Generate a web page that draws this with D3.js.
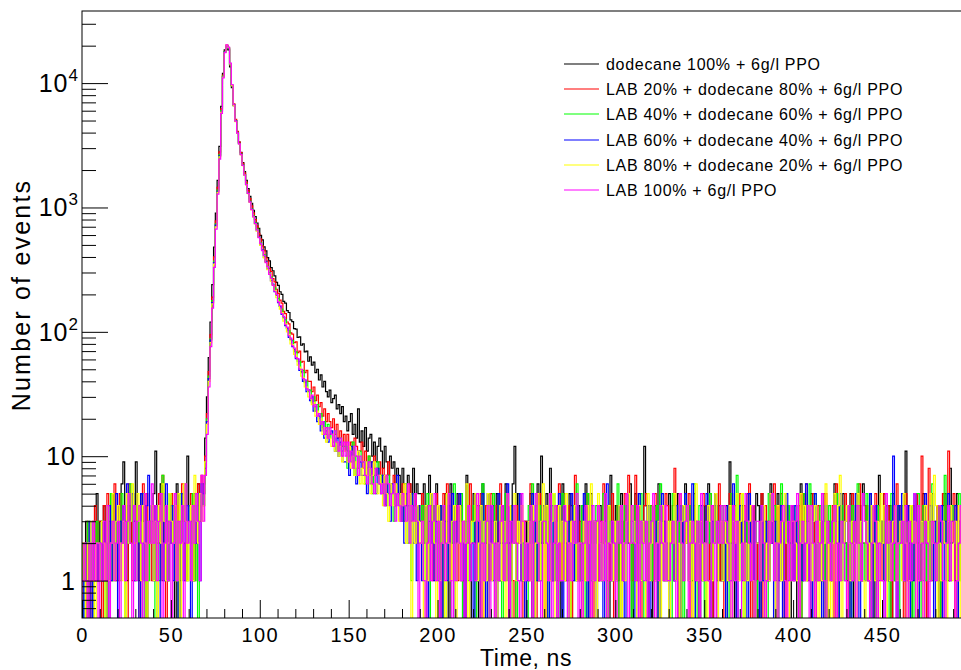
<!DOCTYPE html>
<html>
<head>
<meta charset="utf-8">
<script src="https://cdn.jsdelivr.net/npm/d3@7"></script>
<style>
  html, body { margin: 0; padding: 0; background: #fff; overflow: hidden; }
  text { font-family: "Liberation Sans", Arial, Helvetica, sans-serif; fill: #000; }
</style>
</head>
<body>
<svg id="chart" width="961" height="670"></svg>
<script>
// Time spectra, 1 ns bins starting at t = 0 ns (counts per bin)
const dodecane100 = [
  2,1,3,0,2,1,3,2,5,1, 3,1,4,2,0,3,2,5,3,1, 4,2,6,9,3,1,4,2,5,3, 9,2,1,5,3,4,0,3,2,4,
  5,11,4,2,6,1,3,4,1,3, 3,2,0,6,3,1,5,3,4,10, 4,3,1,5,2,6,3,4,6,14,
  30,62,120,240,480,900,1650,3100,6500,12000,
  18500,20000,18500,13500,9200,6600,5000,4050,3350,2780,
  2300,1940,1650,1420,1230,1080,950,845,750,680,
  596,548,482,447,395,372,328,310,282,250,
  236,210,200,176,170,148,143,125,121,106,
  105,90,91,78,80,69,70,58,63,54,
  57,47,50,41,45,36,40,33,30,34,
  27,29,31,24,26,22,25,19,21,16,
  19,22,15,18,14,24,13,16,12,17,
  11,14,15,10,13,9,12,14,11,8,
  12,9,7,10,8,9,6,8,7,5,
  8,6,4,7,6,5,8,4,6,5,
  5,3,6,2,4,7,5,3,4,6, 3,1,4,2,5,3,0,6,2,4, 2,5,3,4,1,3,7,2,0,3, 5,2,1,0,4,6,3,2,5,1,
  3,4,2,5,1,1,4,3,6,2, 0,2,6,12,2,5,3,1,1,3, 2,3,5,0,3,2,6,1,10,2, 3,5,2,8,1,1,3,4,2,0,
  6,3,2,1,5,4,2,3,1,4, 1,2,4,6,2,0,5,2,3,3, 1,4,3,2,5,1,0,7,2,3, 4,1,2,5,1,3,4,2,6,0,
  2,5,1,4,3,2,12,4,0,3, 3,0,4,1,6,2,4,3,2,1, 5,3,2,1,3,5,0,2,4,6, 2,4,1,1,5,3,2,0,3,2,
  4,3,6,2,0,2,5,1,4,1, 3,2,4,1,9,2,3,0,2,3, 2,4,1,2,5,3,1,4,0,5, 4,0,5,3,2,1,3,6,2,3,
  1,5,2,4,3,1,4,2,0,3, 2,3,0,2,6,1,5,2,3,4, 5,2,3,1,2,3,1,5,0,2, 3,1,2,6,3,0,4,3,5,2,
  1,3,5,2,0,3,2,4,1,6, 4,2,1,5,2,4,0,2,7,3, 2,5,3,1,4,0,5,2,1,4, 3,2,4,11,1,2,0,4,2,5,
  4,1,2,5,3,0,1,3,5,2, 2,4,0,2,4,5,3,1,8,3, 3,1,5,3,2,0,3,5,2,4
];
const lab20 = [
  1,2,0,3,1,0,2,4,1,3, 3,0,4,1,5,2,1,3,6,2, 1,5,2,4,3,0,6,3,1,2, 2,4,0,1,6,3,5,2,3,1,
  4,1,2,5,3,7,2,0,3,2, 5,2,1,4,0,3,6,2,1,3, 3,5,2,1,3,6,4,7,5,10,
  22,48,95,190,400,780,1450,2800,6200,11600,
  18000,20200,19000,14000,9600,6800,5100,4100,3350,2760,
  2260,1900,1600,1370,1180,1030,905,800,712,618,
  560,492,455,398,370,324,306,268,252,220,
  204,180,170,146,140,120,116,98,96,82,
  83,68,70,57,58,47,49,40,40,33,
  36,28,31,25,27,21,24,19,22,19,
  17,20,15,18,14,16,12,15,11,15,
  10,13,9,14,12,8,11,13,8,11,
  7,10,9,6,10,8,7,9,6,8,
  5,7,9,5,6,7,4,6,5,4,
  6,3,5,4,6,3,4,5,2,4,
  3,5,2,4,1,2,4,1,3,5, 2,4,0,5,2,6,3,1,2,3, 4,1,5,3,1,0,4,2,6,3, 3,1,4,2,5,0,2,4,1,2,
  5,3,0,4,2,6,1,3,1,4, 2,4,1,0,4,2,5,3,0,3, 3,1,6,3,2,0,3,5,2,4, 0,3,2,5,1,2,4,1,6,1,
  2,5,1,2,4,0,2,7,3,1, 3,0,4,1,5,2,3,0,2,3, 1,3,2,6,3,4,1,2,5,0, 3,4,0,2,1,5,3,7,2,1,
  2,7,1,4,0,2,4,5,1,2, 4,1,5,2,0,3,2,1,5,4, 1,2,4,8,2,0,5,2,1,3, 2,5,0,2,4,1,3,1,3,5,
  4,2,1,5,0,4,3,2,6,1, 3,0,2,3,5,1,2,4,1,2, 5,2,4,1,2,6,0,4,2,1, 2,1,5,0,4,3,1,3,2,6,
  3,4,1,5,2,0,4,1,2,4, 1,2,3,4,0,5,3,6,1,2, 2,5,0,2,4,1,2,3,5,1, 3,1,4,0,6,2,1,3,2,5,
  4,0,2,5,1,4,2,6,1,2, 2,4,1,2,0,3,5,1,4,3, 1,5,2,4,3,0,4,1,6,2, 4,2,0,5,1,4,3,2,1,5,
  2,1,10,2,4,0,8,4,1,3, 3,4,1,0,5,2,4,11,2,2, 5,0,4,3,1,4,2,1,5,3
];
const lab40 = [
  0,2,1,3,2,1,0,2,3,1, 2,3,1,0,4,2,5,1,3,2, 3,1,5,2,0,4,2,6,3,1, 1,4,2,3,5,0,3,1,2,4,
  3,0,4,1,2,7,4,2,1,5, 2,4,1,3,0,5,2,3,6,1, 4,2,5,1,3,0,4,6,4,9,
  20,44,88,178,370,740,1380,2650,6000,11400,
  17900,20000,19100,14100,9500,6700,5000,4000,3280,2690,
  2200,1840,1540,1310,1120,975,855,755,672,580,
  522,455,418,366,338,296,276,240,226,196,
  186,160,152,130,125,106,102,86,85,70,
  69,58,58,47,49,39,40,33,34,27,
  30,23,26,20,22,17,19,15,18,14,
  15,13,16,11,12,14,10,12,12,8,
  11,9,13,7,10,8,11,9,9,6,
  8,10,7,5,8,7,9,6,7,5,
  6,4,7,5,6,3,5,6,4,5,
  3,4,6,2,4,1,5,3,4,2,
  2,4,1,3,5,0,3,2,4,1, 3,1,4,0,2,5,1,3,2,6, 1,3,2,5,0,2,4,1,3,2, 4,0,3,1,2,6,2,3,0,4,
  2,5,1,3,4,1,0,2,5,3, 3,1,4,2,0,3,5,1,2,1, 0,4,2,6,3,1,2,4,1,3, 2,3,0,4,1,5,3,0,2,4,
  5,1,2,3,0,2,4,1,6,2, 1,4,3,0,5,2,1,3,2,4, 3,2,1,5,2,0,4,2,1,3, 2,6,0,3,1,4,2,5,3,0,
  4,1,3,2,5,1,0,3,2,4, 1,3,2,4,0,6,3,1,2,3, 3,0,5,1,3,2,4,2,0,5, 2,4,1,3,6,0,2,4,1,2,
  0,3,2,5,1,3,4,0,3,2, 4,1,3,0,2,5,1,3,7,1, 2,5,0,3,1,2,4,2,3,0, 1,2,4,1,3,0,5,3,2,4,
  3,0,2,6,1,3,2,4,1,2, 2,4,1,3,0,2,5,1,3,6, 0,3,5,1,2,4,1,3,0,2, 4,1,2,3,5,0,2,4,2,1,
  2,3,0,4,1,3,6,1,3,2, 1,5,2,0,3,2,1,4,2,3, 3,1,4,2,0,5,3,1,4,0, 2,4,1,3,2,1,4,0,3,5,
  5,0,2,4,1,3,2,1,6,2, 1,3,4,0,2,7,1,3,2,4, 3,2,0,5,1,3,4,2,0,3
];
const lab60 = [
  1,0,2,1,3,0,2,1,1,2, 2,1,3,2,0,4,1,3,2,5, 0,3,2,4,1,6,2,3,5,1, 3,2,0,5,2,1,4,7,2,3,
  1,4,3,0,2,5,1,6,3,2, 4,1,2,3,0,2,5,1,3,4, 2,0,3,4,2,5,1,6,5,8,
  19,42,86,172,360,720,1350,2600,5900,11300,
  17800,19900,19200,14200,9600,6650,4950,3980,3260,2670,
  2180,1830,1530,1300,1110,965,845,745,650,582,
  500,458,398,368,320,297,258,242,210,198,
  172,160,138,130,112,107,90,87,76,72,
  61,60,49,48,40,41,33,34,28,30,
  23,25,19,21,16,19,14,16,13,15,
  16,12,11,14,10,13,11,9,9,11,
  7,12,10,8,6,11,9,7,7,9,
  5,8,6,9,7,5,8,6,5,7,
  4,6,5,3,6,5,4,7,5,3,
  4,2,5,4,3,5,2,4,1,4,
  3,1,2,4,0,3,5,2,1,3, 1,4,0,2,3,1,4,2,5,0, 3,2,5,1,2,0,3,4,1,2, 0,3,1,4,2,5,1,0,3,2,
  4,1,3,0,5,2,2,3,1,6, 2,0,4,2,1,3,5,1,2,0, 1,3,2,5,0,4,1,3,2,4, 3,2,0,3,4,1,2,0,5,1,
  0,4,2,1,3,5,1,2,4,2, 2,1,5,3,0,2,4,1,3,0, 4,2,1,0,3,6,2,3,1,2, 1,3,4,2,1,0,3,5,2,3,
  3,0,2,5,1,3,2,1,4,0, 2,4,1,3,0,2,5,3,1,2, 0,2,3,1,4,2,0,4,2,5, 3,1,2,6,0,3,1,2,4,1,
  2,5,1,0,3,2,4,1,3,2, 1,3,0,4,2,1,6,2,0,3, 4,1,3,2,0,5,2,3,1,2, 2,0,4,1,3,2,1,5,2,0,
  3,2,1,4,0,3,5,1,2,4, 1,4,2,0,3,1,2,6,3,1, 0,3,5,2,1,2,0,3,4,2, 2,1,3,4,2,0,5,1,2,3,
  4,2,0,1,3,5,2,0,3,1, 1,3,2,5,0,2,4,3,1,2, 3,0,4,1,2,3,10,2,0,4, 2,5,1,3,4,0,2,1,5,3,
  0,2,3,1,5,2,1,4,2,0, 3,1,2,4,0,3,2,5,1,2, 2,4,0,2,3,1,4,2,3,1
];
const lab80 = [
  2,1,0,2,1,3,1,0,2,2, 1,3,2,0,4,1,2,5,1,3, 4,2,1,3,0,5,2,3,6,2, 2,5,3,1,4,2,0,3,2,4,
  1,3,0,4,2,6,3,1,2,5, 3,2,4,1,5,0,2,6,3,1, 2,4,1,7,3,2,5,3,4,9,
  18,40,82,168,350,700,1320,2550,5850,11200,
  17700,20100,19300,14300,9550,6600,4900,3950,3240,2650,
  2170,1820,1520,1290,1100,955,840,738,645,575,
  496,452,394,362,316,292,255,238,215,188,
  176,152,143,122,116,100,95,80,79,66,
  65,54,52,44,43,36,36,30,31,26,
  27,21,23,18,20,15,17,13,16,14,
  12,15,11,13,10,12,9,11,11,9,
  12,8,10,7,9,11,6,8,6,9,
  7,8,5,7,9,6,5,7,6,4,
  7,5,3,6,5,4,6,5,3,5,
  4,6,2,3,5,0,3,2,4,3,
  2,3,0,4,1,2,5,3,2,0, 4,1,3,2,0,5,2,1,3,4, 0,2,4,1,3,2,6,0,2,3, 3,5,1,2,4,0,3,1,5,2,
  1,2,3,0,2,4,1,3,0,5, 4,0,2,5,1,3,2,4,1,2, 2,3,1,4,0,2,5,1,3,6, 0,4,2,1,3,5,0,2,4,1,
  3,1,5,2,0,3,2,4,1,2, 2,0,3,1,4,2,6,1,3,0, 5,2,1,3,2,0,4,2,1,3, 1,3,4,0,2,1,3,5,2,4,
  3,2,0,4,1,3,2,0,5,1, 2,4,1,2,3,0,4,2,1,3, 0,3,2,5,1,2,0,3,4,2, 4,1,3,0,2,6,1,2,3,1,
  2,0,4,3,1,2,5,0,2,3, 1,3,2,1,4,0,3,2,5,1, 3,5,0,2,1,3,4,1,0,2, 2,1,3,4,0,2,1,5,3,2,
  0,4,2,1,3,5,2,0,1,3, 3,2,1,0,5,2,4,1,2,4, 1,3,4,2,0,3,1,2,6,0, 2,0,2,5,1,4,7,0,2,3,
  4,2,1,3,2,0,5,1,3,1, 0,3,2,1,4,2,1,3,0,5, 2,4,0,3,1,2,3,4,1,2, 3,1,5,2,0,1,4,2,3,0,
  1,2,3,0,4,3,1,5,2,7, 4,0,2,1,3,2,0,3,4,1, 2,3,1,4,0,2,5,1,2,3
];
const lab100 = [
  1,2,1,0,2,1,3,1,2,0, 2,1,3,1,4,0,2,3,1,2, 3,0,2,4,1,3,5,2,0,4, 1,3,4,2,0,5,1,3,2,6,
  2,4,1,3,5,0,2,4,1,3, 0,2,5,1,3,2,4,0,6,2, 3,1,4,2,5,3,1,7,3,7,
  15,36,76,155,330,670,1280,2450,5700,11000,
  17600,20300,19500,14500,9700,6700,4950,3960,3250,2660,
  2180,1825,1525,1300,1105,960,842,742,660,572,
  515,450,412,360,334,290,270,236,212,200,
  174,163,140,133,114,109,93,89,77,74,
  62,61,50,50,42,41,35,34,29,31,
  25,26,21,22,18,19,15,17,14,17,
  15,12,16,13,11,14,10,13,10,13,
  9,11,8,12,10,7,10,9,9,7,
  6,9,8,6,5,8,7,6,5,6,
  4,7,6,4,5,6,3,5,4,3,
  5,4,3,6,2,4,3,5,3,0,
  2,3,1,0,2,4,1,3,5,1, 3,0,2,4,1,2,5,1,0,3, 1,4,2,1,3,0,2,4,1,2, 2,1,5,3,0,2,1,3,4,0,
  4,2,0,2,1,3,4,1,2,5, 0,3,2,4,2,1,0,5,3,1, 2,1,4,0,3,5,2,1,0,3, 3,2,1,5,0,2,4,0,2,1,
  1,4,3,0,2,1,3,2,5,0, 2,0,2,4,1,3,0,4,1,3, 4,1,3,1,5,0,2,1,3,2, 0,3,2,4,1,2,5,0,2,4,
  2,1,4,0,3,2,1,3,0,2, 3,5,0,2,1,4,2,1,4,1, 1,2,3,1,0,3,5,2,1,3, 4,0,2,3,2,1,3,0,5,2,
  1,3,1,0,4,2,0,3,2,4, 2,4,3,2,1,0,4,1,3,0, 0,2,1,5,3,2,1,4,0,3, 3,1,4,2,0,1,3,2,5,1,
  2,0,2,3,4,1,0,3,1,4, 1,3,5,0,2,3,1,2,4,0, 4,2,0,3,1,2,5,1,0,3, 2,1,3,4,0,2,1,3,2,1,
  0,4,2,1,3,0,4,2,1,5, 3,2,1,0,2,4,3,0,2,1, 1,0,5,2,3,1,2,4,0,2, 2,3,1,4,0,3,1,2,5,0,
  4,1,2,0,3,2,0,1,3,2, 1,2,4,3,1,0,2,4,1,3, 3,0,1,2,4,1,3,0,2,4
];

const seriesLabels = [
  "dodecane 100% + 6g/l PPO",
  "LAB 20% + dodecane 80% + 6g/l PPO",
  "LAB 40% + dodecane 60% + 6g/l PPO",
  "LAB 60% + dodecane 40% + 6g/l PPO",
  "LAB 80% + dodecane 20% + 6g/l PPO",
  "LAB 100% + 6g/l PPO"
];
const seriesColors = ["#000000", "#ff0000", "#00ff00", "#0000ff", "#ffff00", "#ff00ff"];
const seriesCounts = [dodecane100, lab20, lab40, lab60, lab80, lab100];

const xRange = [0, 495];          // ns
const yRange = [0.5, 38000];      // events
const xTickLabels = [0, 50, 100, 150, 200, 250, 300, 350, 400, 450];
const yTickLabels = [
  { value: 1, base: "1", exp: "" },
  { value: 10, base: "10", exp: "" },
  { value: 100, base: "10", exp: "2" },
  { value: 1000, base: "10", exp: "3" },
  { value: 10000, base: "10", exp: "4" }
];
const xTitle = "Time, ns";
const yTitle = "Number of events";

// ---- layout
const W = 961, H = 670;
const frame = { left: 82, top: 11, right: 962, bottom: 618 };

const svg = d3.select("#chart");
svg.append("rect").attr("width", W).attr("height", H).attr("fill", "#fff");

const x = d3.scaleLinear().domain(xRange).range([frame.left, frame.right]);
const y = d3.scaleLog().domain(yRange).range([frame.bottom, frame.top]);

svg.append("defs").append("clipPath").attr("id", "plotClip")
  .append("rect")
  .attr("x", frame.left).attr("y", frame.top)
  .attr("width", frame.right - frame.left).attr("height", frame.bottom - frame.top);

// ---- histograms (step outlines, empty bins drop to the frame floor)
const floorValue = 0.3;
const stepLine = d3.line()
  .x(d => x(d[0]))
  .y(d => y(Math.max(d[1], floorValue)))
  .curve(d3.curveStepAfter);

const histGroup = svg.append("g").attr("clip-path", "url(#plotClip)");
seriesCounts.forEach((counts, i) => {
  const pts = counts.map((c, b) => [b, c]);
  pts.push([counts.length, counts[counts.length - 1]]);
  pts.unshift([0, floorValue]);
  histGroup.append("path")
    .attr("d", stepLine(pts))
    .attr("fill", "none")
    .attr("stroke", seriesColors[i])
    .attr("stroke-width", 1.2);
});

// ---- axes
const axisG = svg.append("g");

// x minor ticks every 10 ns, major every 50 ns
const xMinor = d3.range(xRange[0], xRange[1] + 1, 10).filter(v => v % 50 !== 0);
axisG.append("g")
  .attr("transform", `translate(0,${frame.bottom})`)
  .call(d3.axisBottom(x).tickValues(xMinor).tickSize(-9).tickFormat(""))
  .call(g => g.select(".domain").remove());

const xAxis = axisG.append("g")
  .attr("transform", `translate(0,${frame.bottom})`)
  .call(d3.axisBottom(x).tickValues(xTickLabels).tickSize(-18).tickFormat(d3.format("d")))
  .call(g => g.select(".domain").remove());
xAxis.selectAll(".tick text")
  .attr("y", 24).attr("dy", 0)
  .attr("font-size", 20)
  .attr("letter-spacing", "1.4px")
  .attr("font-family", "Liberation Sans, Arial, sans-serif")
  .attr("fill", "#000");
axisG.selectAll(".tick line").attr("stroke", "#000");

// y minor ticks 2..9 per decade
const yMinor = [];
for (let e = -1; e <= 4; e++) {
  for (let m = 2; m <= 9; m++) {
    const v = m * Math.pow(10, e);
    if (v > yRange[0] && v < yRange[1]) yMinor.push(v);
  }
}
axisG.append("g")
  .attr("transform", `translate(${frame.left},0)`)
  .call(d3.axisLeft(y).tickValues(yMinor).tickSize(-14).tickFormat(""))
  .call(g => g.select(".domain").remove());
axisG.append("g")
  .attr("transform", `translate(${frame.left},0)`)
  .call(d3.axisLeft(y).tickValues(yTickLabels.map(d => d.value)).tickSize(-26).tickFormat(""))
  .call(g => g.select(".domain").remove());
axisG.selectAll(".tick line").attr("stroke", "#000");

// y tick labels with exponents
const yLab = svg.append("g");
yTickLabels.forEach(d => {
  const t = yLab.append("text")
    .attr("x", d.exp ? 79 : 76)
    .attr("y", y(d.value) + 9)
    .attr("text-anchor", "end")
    .attr("font-size", 25)
    .attr("letter-spacing", "1px");
  t.append("tspan").text(d.base);
  if (d.exp) {
    t.append("tspan").attr("font-size", 17).attr("dy", -11).text(d.exp);
  }
});

// frame
svg.append("rect")
  .attr("x", frame.left).attr("y", frame.top)
  .attr("width", frame.right - frame.left).attr("height", frame.bottom - frame.top)
  .attr("fill", "none").attr("stroke", "#000").attr("stroke-width", 1);

// axis titles
svg.append("text")
  .attr("x", 526).attr("y", 666)
  .attr("text-anchor", "middle")
  .attr("font-size", 23)
  .attr("letter-spacing", "0.6px")
  .text(xTitle);
svg.append("text")
  .attr("transform", "translate(30,295) rotate(-90)")
  .attr("text-anchor", "middle")
  .attr("font-size", 25)
  .attr("letter-spacing", "2.2px")
  .text(yTitle);

// ---- legend
const legend = svg.append("g");
seriesLabels.forEach((label, i) => {
  const cy = Math.round(64 + i * 25.2);
  legend.append("line")
    .attr("x1", 564).attr("x2", 599)
    .attr("y1", cy).attr("y2", cy)
    .attr("stroke", seriesColors[i]).attr("stroke-width", 1.2);
  legend.append("text")
    .attr("x", 606).attr("y", cy + 6)
    .attr("font-size", 16)
    .attr("letter-spacing", "0.7px")
    .text(label);
});
</script>
</body>
</html>
